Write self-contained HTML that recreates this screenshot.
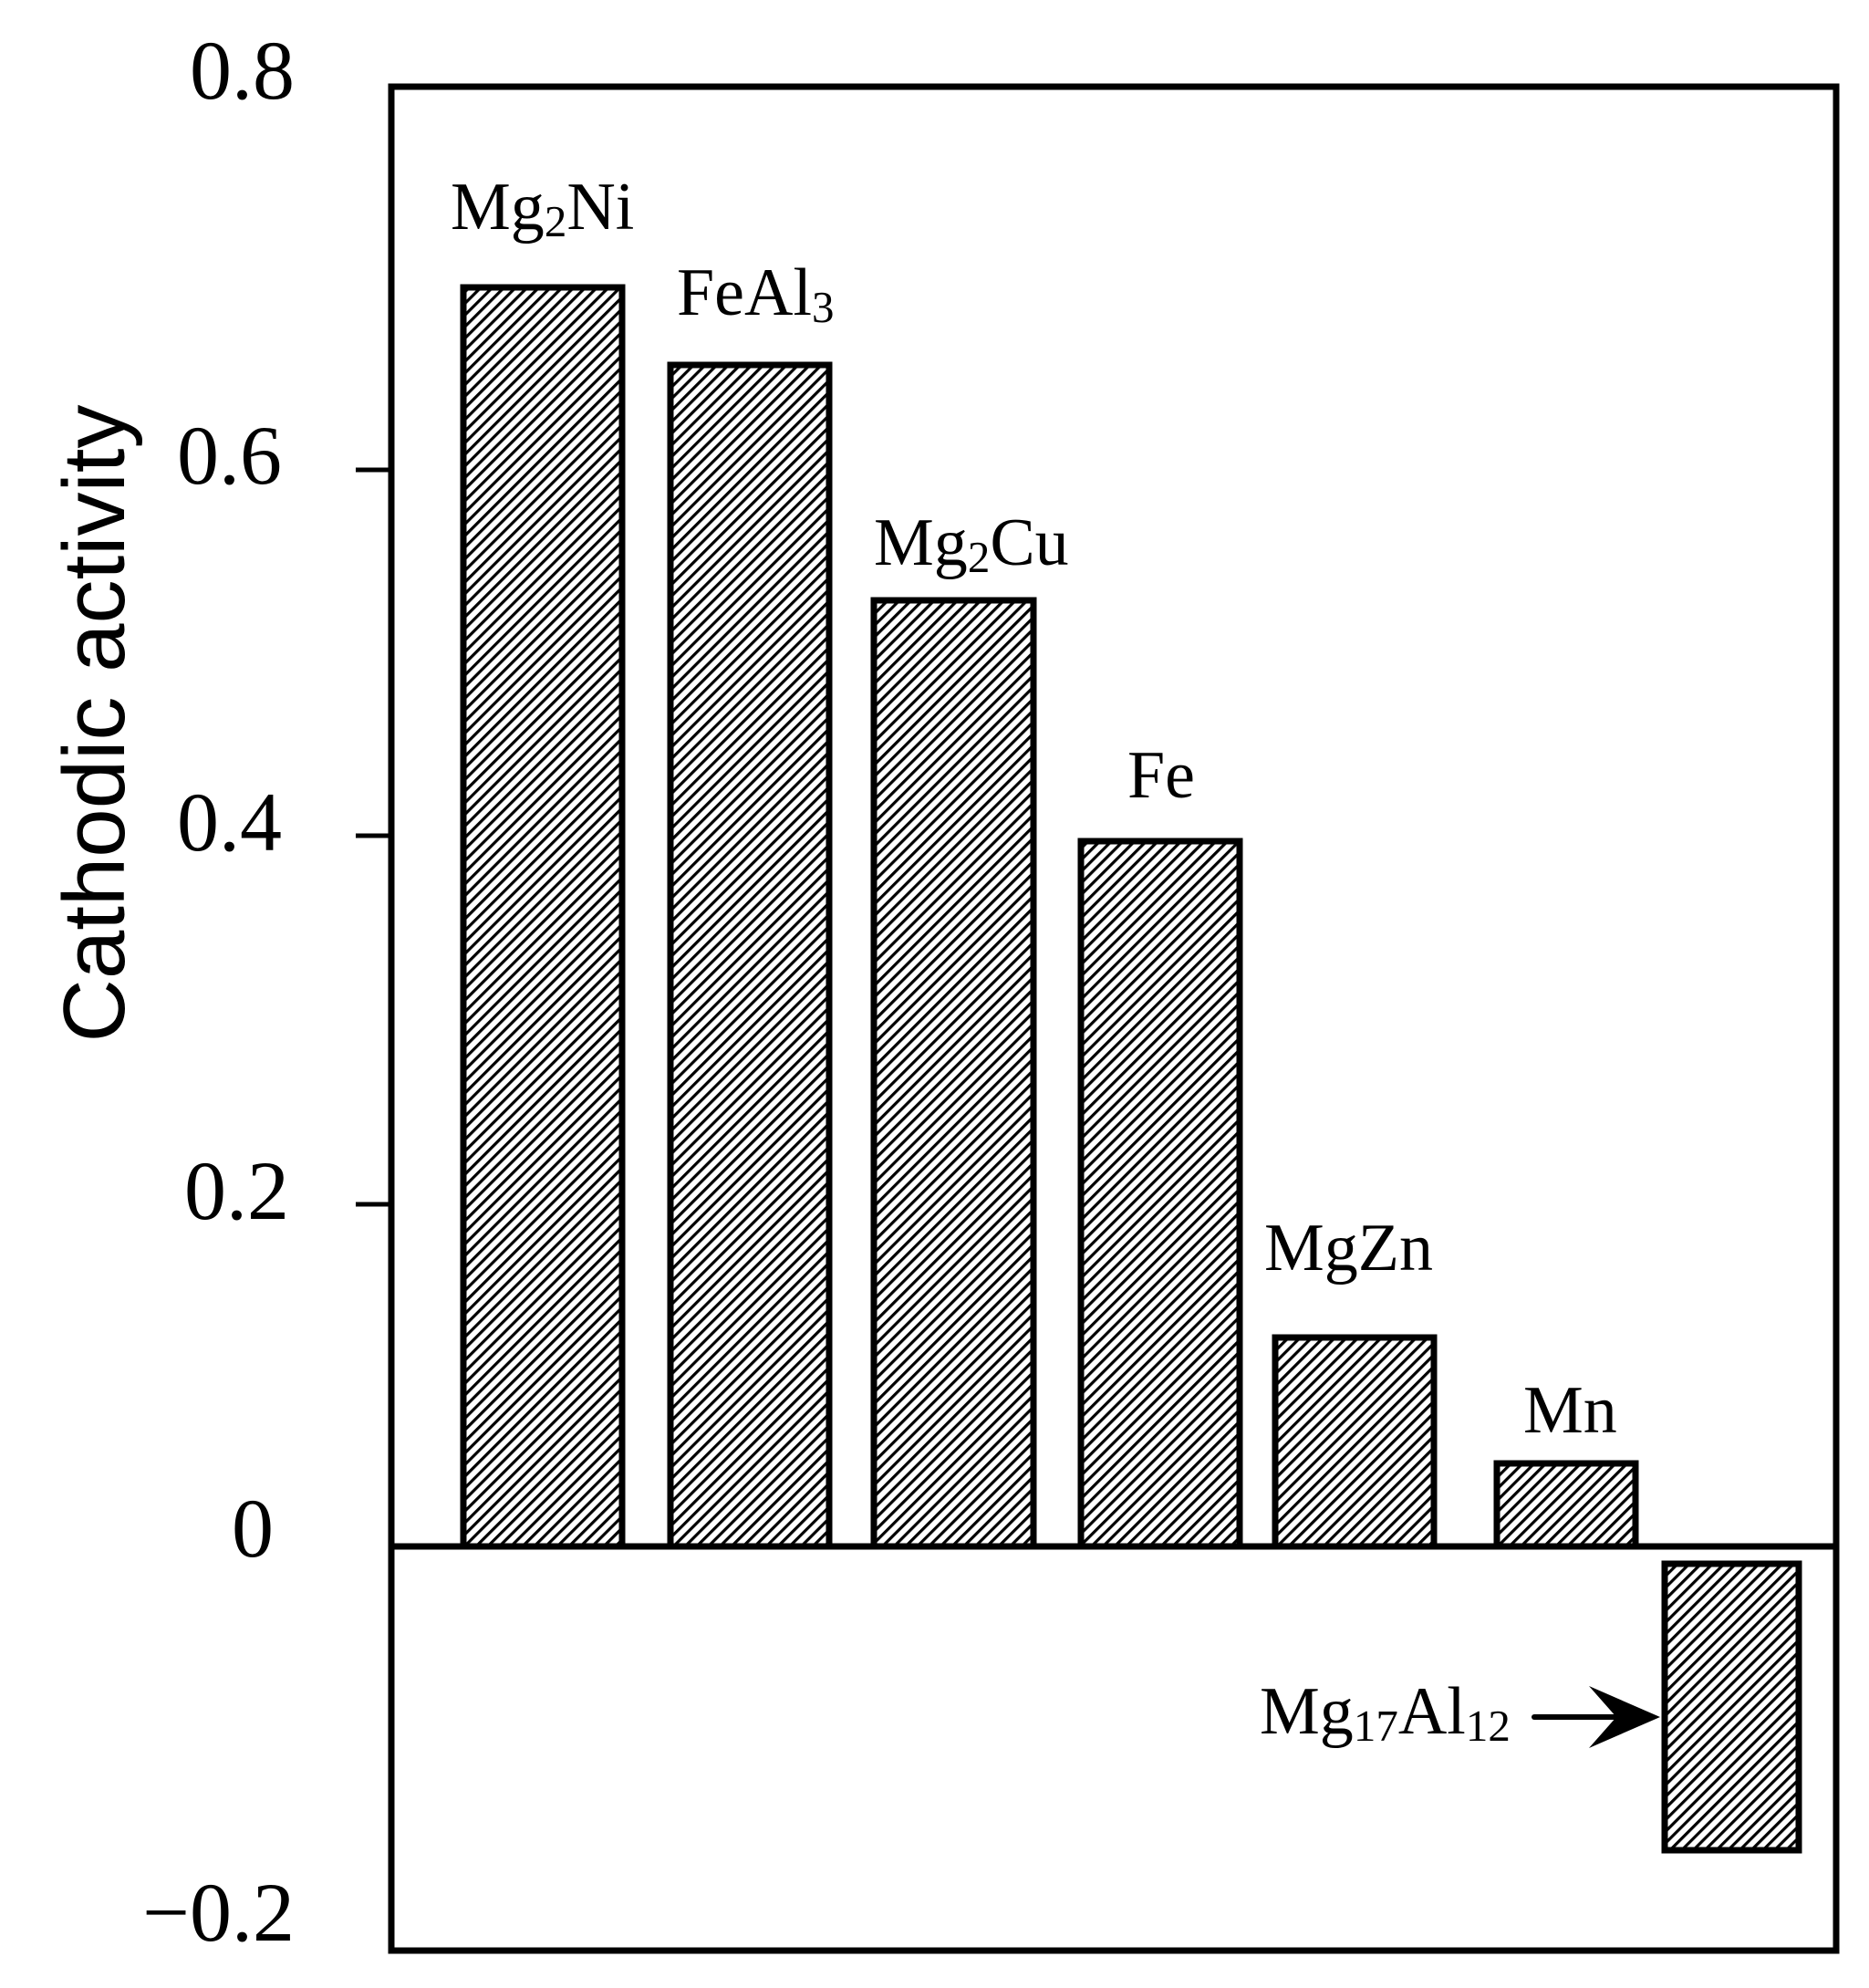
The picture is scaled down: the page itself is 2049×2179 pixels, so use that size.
<!DOCTYPE html>
<html><head><meta charset="utf-8"><style>html,body{margin:0;padding:0;background:#fff}svg{display:block}</style></head>
<body>
<svg width="2049" height="2179" viewBox="0 0 2049 2179" xmlns="http://www.w3.org/2000/svg">
<defs>
<pattern id="h" patternUnits="userSpaceOnUse" width="9" height="9" patternTransform="rotate(45)">
<rect width="9" height="9" fill="#fff"/>
<rect x="0" y="0" width="3.2" height="9" fill="#000"/>
</pattern>
</defs>
<g font-family="'Liberation Serif', serif" fill="#000">
<rect x="429" y="95" width="1584" height="2043" fill="none" stroke="#000" stroke-width="7"/>
<g stroke="#000" stroke-width="5">
<line x1="390" y1="515" x2="429" y2="515"/>
<line x1="390" y1="916" x2="429" y2="916"/>
<line x1="390" y1="1320" x2="429" y2="1320"/>
</g>
<g font-size="92">
<text x="323" y="108" text-anchor="end">0.8</text>
<text x="309" y="530" text-anchor="end">0.6</text>
<text x="309" y="932" text-anchor="end">0.4</text>
<text x="317" y="1336" text-anchor="end">0.2</text>
<text x="300" y="1706" text-anchor="end">0</text>
<text x="323" y="2127" text-anchor="end">−0.2</text>
</g>
<text transform="translate(136,793) rotate(-90)" text-anchor="middle" font-family="'Liberation Sans', sans-serif" font-size="96">Cathodic activity</text>
<g fill="url(#h)" stroke="#000" stroke-width="7">
<rect x="508" y="315" width="174" height="1380"/>
<rect x="735" y="400" width="174" height="1295"/>
<rect x="958" y="658" width="175" height="1037"/>
<rect x="1185" y="922" width="174" height="773"/>
<rect x="1398" y="1466" width="174" height="229"/>
<rect x="1641" y="1604" width="152" height="91"/>
<rect x="1825" y="1714" width="147" height="314"/>
</g>
<line x1="429" y1="1695" x2="2013" y2="1695" stroke="#000" stroke-width="7"/>
<g font-size="74">
<text x="494" y="251">Mg<tspan font-size="49" dy="8">2</tspan><tspan dy="-8">Ni</tspan></text>
<text x="742" y="345">FeAl<tspan font-size="49" dy="8">3</tspan></text>
<text x="958" y="619">Mg<tspan font-size="49" dy="8">2</tspan><tspan dy="-8">Cu</tspan></text>
<text x="1236" y="874">Fe</text>
<text x="1386" y="1392">MgZn</text>
<text x="1670" y="1570">Mn</text>
<text x="1381" y="1900">Mg<tspan font-size="49" dy="8">17</tspan><tspan dy="-8">Al</tspan><tspan font-size="49" dy="8">12</tspan></text>
</g>
<line x1="1682" y1="1882" x2="1770" y2="1882" stroke="#000" stroke-width="6" stroke-linecap="round"/>
<polygon points="1742,1848 1820,1882 1742,1916 1772,1882" fill="#000"/>
</g>
</svg>
</body></html>
